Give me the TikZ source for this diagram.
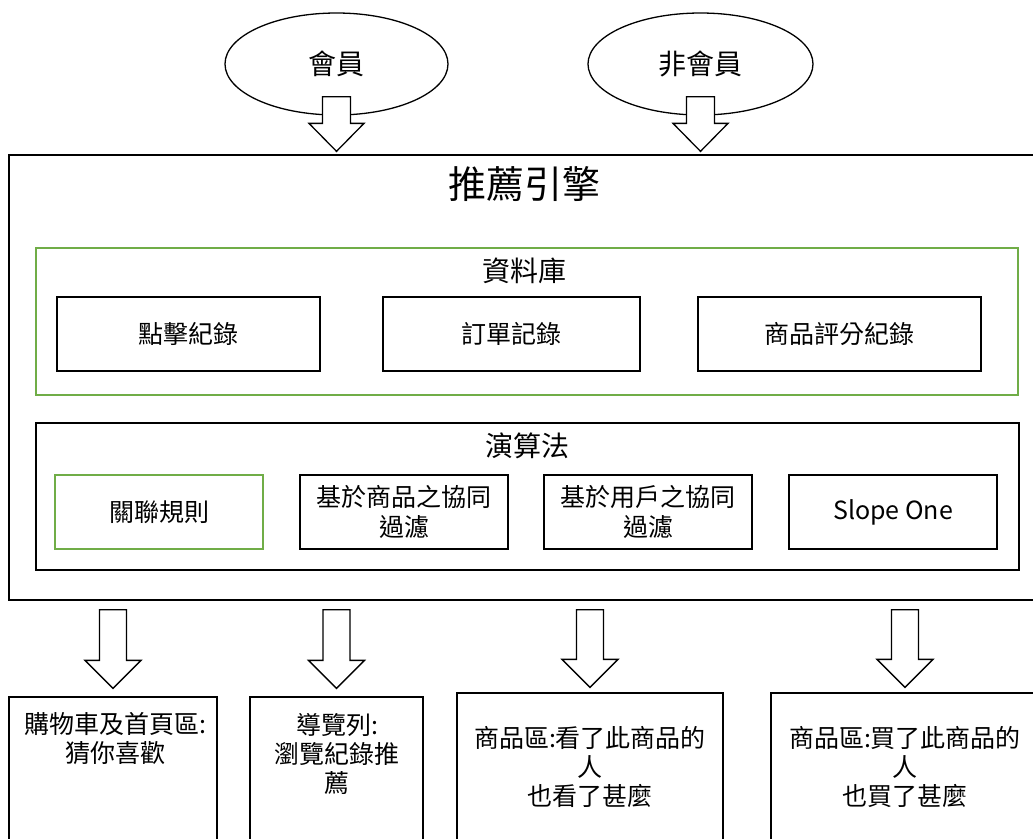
\documentclass[tikz,border=0pt]{standalone}
\usepackage{fontspec}
\setmainfont{Noto Sans CJK TC}
\usetikzlibrary{shapes.geometric,calc}
\definecolor{grn}{HTML}{70AD47}
\newcommand\blkarrow[4]{%
  \draw[arr] let \p1=(#1), \p2=(#2) in
    ({\x1-#3pt},{\y1}) -- ({\x1+#3pt},{\y1}) -- ({\x1+#3pt},{\y2+28pt}) --
    ({\x1+#4pt},{\y2+28pt}) -- ({\x1},{\y2}) -- ({\x1-#4pt},{\y2+28pt}) --
    ({\x1-#3pt},{\y2+28pt}) -- cycle;}
\begin{document}
\begin{tikzpicture}[x=1pt,y=-1pt,line width=1.3pt,
  box/.style={draw=black,rectangle,inner sep=0pt,align=center,
    font=\fontsize{25pt}{30pt}\selectfont},
  gbox/.style={box,draw=grn},
  oval/.style={draw=black,ellipse,inner sep=0pt,fill=white,
    font=\fontsize{28pt}{32pt}\selectfont},
  txt/.style={inner sep=0pt,align=center,font=\fontsize{25pt}{29pt}\selectfont},
  lbl/.style={inner sep=0pt,font=\fontsize{28pt}{32pt}\selectfont},
  arr/.style={draw=black,fill=white,line join=miter}]
\useasboundingbox (0,0) rectangle (1033,838);
\clip (0,0) rectangle (1033,838);
% top actors
\node[oval,minimum width=223pt,minimum height=102pt] (m1) at (336.5,64) {會員};
\node[oval,minimum width=225pt,minimum height=102pt] (m2) at (700.5,64) {非會員};
% engine
\node[box,minimum width=1036pt,minimum height=445pt] (eng) at (527,377.5) {};
\node[inner sep=0pt,font=\fontsize{38pt}{42pt}\selectfont] (title) at (524,184) {推薦引擎};
% database
\node[gbox,minimum width=982pt,minimum height=147pt] (db) at (527,321.5) {};
\node[lbl] (dbl) at (524,271) {資料庫};
\node[box,minimum width=263pt,minimum height=74pt] (d1) at (188.5,334) {點擊紀錄};
\node[box,minimum width=257pt,minimum height=74pt] (d2) at (511.5,334) {訂單記錄};
\node[box,minimum width=283pt,minimum height=74pt] (d3) at (839.5,334) {商品評分紀錄};
% algorithms
\node[box,minimum width=983pt,minimum height=147pt] (alg) at (527.5,496.5) {};
\node[lbl] (algl) at (527,446) {演算法};
\node[gbox,minimum width=208pt,minimum height=74pt] (a1) at (159,512) {關聯規則};
\node[box,minimum width=208pt,minimum height=74pt] (a2) at (404,512) {基於商品之協同\\過濾};
\node[box,minimum width=208pt,minimum height=74pt] (a3) at (648,512) {基於用戶之協同\\過濾};
\node[box,minimum width=208pt,minimum height=74pt] (a4) at (893,512) {Slope One};
% outputs
\node[box,minimum width=208pt,minimum height=203pt] (b1) at (113,798.5) {};
\node[box,minimum width=173pt,minimum height=203pt] (b2) at (336.5,798.5) {};
\node[box,minimum width=266pt,minimum height=207pt] (b3) at (590,796.5) {};
\node[box,minimum width=268pt,minimum height=207pt] (b4) at (905,796.5) {};
\node[txt] (b1t) at (115,739) {購物車及首頁區:\\猜你喜歡};
\node[txt] (b2t) at (337,753.5) {導覽列:\\瀏覽紀錄推\\薦};
\node[txt] (b3t) at (590,767) {商品區:看了此商品的\\人\\也看了甚麼};
\node[txt] (b4t) at (905,767) {商品區:買了此商品的\\人\\也買了甚麼};
% block arrows
\coordinate (s1) at ($(m1.south)+(0,-19)$);
\coordinate (e1) at ($(m1.south |- eng.north)+(0,-3)$);
\coordinate (s2) at ($(m2.south)+(0,-19)$);
\coordinate (e2) at ($(m2.south |- eng.north)+(0,-3)$);
\blkarrow{s1}{e1}{14}{27.5}
\blkarrow{s2}{e2}{14}{27.5}
\foreach \b/\d in {b1/8,b2/8,b3/5,b4/5}{
  \coordinate (s\b) at ($(eng.south -| \b.north)+(0,9)$);
  \coordinate (e\b) at ($(\b.north)+(0,-\d)$);
  \blkarrow{s\b}{e\b}{13.5}{28}
}
\end{tikzpicture}
\end{document}
